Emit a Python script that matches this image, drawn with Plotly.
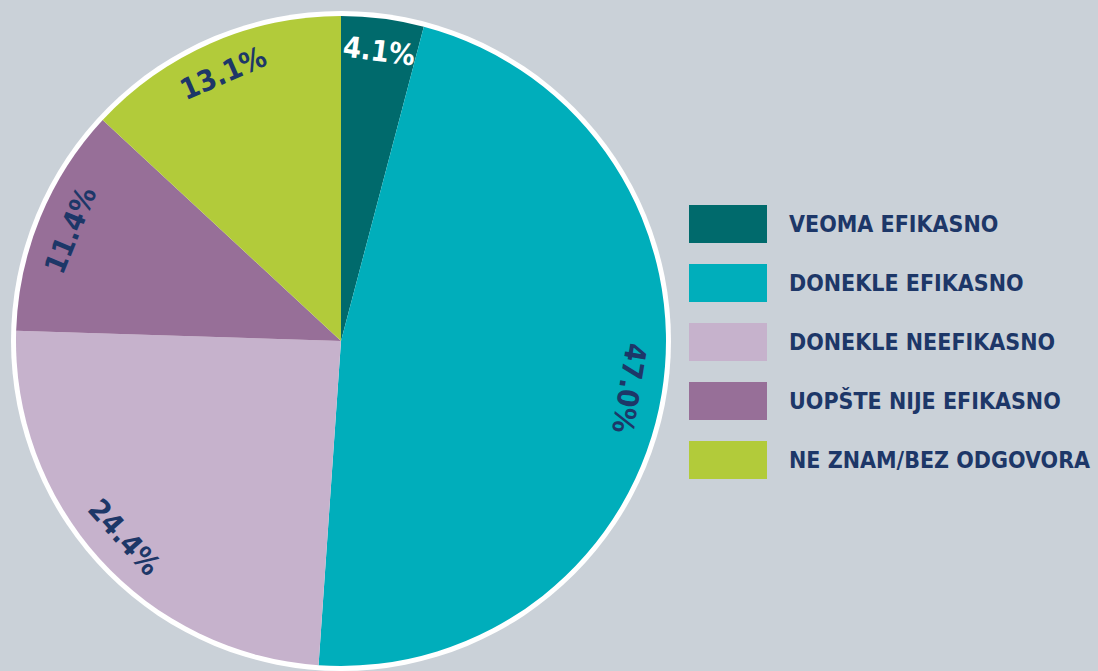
import math
import plotly.graph_objects as go

categories = ["VEOMA EFIKASNO", "DONEKLE EFIKASNO", "DONEKLE NEEFIKASNO",
              "UOPŠTE NIJE EFIKASNO", "NE ZNAM/BEZ ODGOVORA"]
values = [4.1, 47.0, 24.4, 11.4, 13.1]
value_labels = ["4.1%", "47.0%", "24.4%", "11.4%", "13.1%"]
colors = ["#006a6c", "#00aebb", "#c6b2cc", "#976f98", "#b2cb3a"]
label_colors = ["#ffffff", "#1d3768", "#1d3768", "#1d3768", "#1d3768"]

W, H = 1098, 671
CX, CY, R = 341, 341, 325
BORDER = 5
FONT = "Liberation Sans Narrow, DejaVu Sans Condensed, Arial Narrow, sans-serif"
BG = "#cad1d8"

fig = go.Figure()
fig.add_trace(go.Pie(
    values=values, labels=categories, sort=False, direction="clockwise",
    rotation=0, marker=dict(colors=colors, line=dict(width=0)),
    textinfo="none", hoverinfo="label+percent", showlegend=False,
    domain=dict(x=[(CX - R) / W, (CX + R) / W], y=[1 - (CY + R) / H, 1 - (CY - R) / H]),
))

shapes = [dict(type="circle", xref="paper", yref="paper", layer="below",
               x0=(CX - R - BORDER) / W, x1=(CX + R + BORDER) / W,
               y0=1 - (CY + R + BORDER) / H, y1=1 - (CY - R - BORDER) / H,
               fillcolor="white", line=dict(width=0))]
annotations = []

total = sum(values)
cum = 0.0
for v, lab, col in zip(values, value_labels, label_colors):
    mid = (cum + v / 2) / total * 360.0
    cum += v
    rr = 0.9 * R
    px = CX + rr * math.sin(math.radians(mid))
    py = CY - rr * math.cos(math.radians(mid))
    ang = ((mid + 180) % 360) - 180
    if ang < -90:
        ang += 180
    annotations.append(dict(x=px / W, y=1 - py / H, xref="paper", yref="paper",
                            text="<b>%s</b>" % lab, showarrow=False, textangle=ang,
                            font=dict(family=FONT, size=29, color=col),
                            xanchor="center", yanchor="middle"))

# legend
LX0, LX1, SH = 689, 767, 38
LY0, STEP = 224, 59
for i, (cat, col) in enumerate(zip(categories, colors)):
    yc = LY0 + i * STEP
    shapes.append(dict(type="rect", xref="paper", yref="paper",
                       x0=LX0 / W, x1=LX1 / W, y0=1 - (yc + SH / 2) / H, y1=1 - (yc - SH / 2) / H,
                       fillcolor=col, line=dict(width=0)))
    annotations.append(dict(x=787 / W, y=1 - yc / H, xref="paper", yref="paper",
                            text="<b>%s</b>" % cat, showarrow=False,
                            font=dict(family=FONT, size=23, color="#1d3768"),
                            xanchor="left", yanchor="middle"))

fig.update_layout(width=W, height=H, margin=dict(l=0, r=0, t=0, b=0),
                  paper_bgcolor=BG, plot_bgcolor=BG,
                  shapes=shapes, annotations=annotations)
fig.write_html("out.html", config=dict(displayModeBar=False),
               post_script="document.body.style.margin='0';document.body.style.padding='0';"
                           "document.body.style.overflow='hidden';")
